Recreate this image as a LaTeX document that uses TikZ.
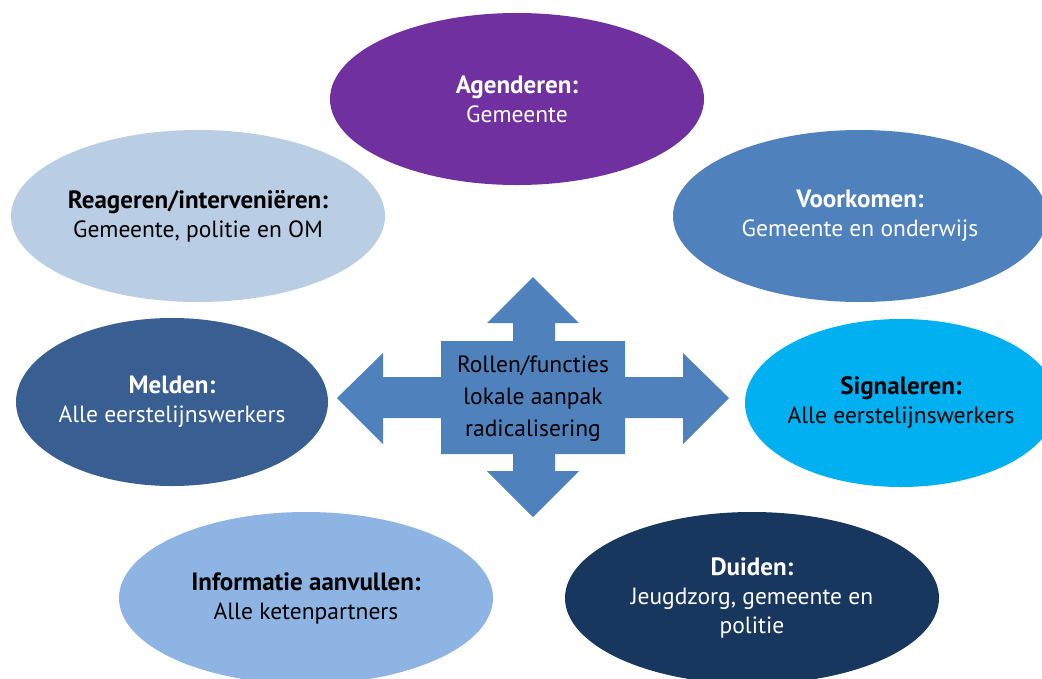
\documentclass[tikz,border=0pt]{standalone}
\usepackage{fontspec}
\setmainfont{PT Sans}
\usetikzlibrary{shapes.geometric}
\definecolor{cPurple}{HTML}{7030A0}
\definecolor{cPale}{HTML}{B9CDE5}
\definecolor{cMid}{HTML}{4F81BD}
\definecolor{cSteel}{HTML}{385E92}
\definecolor{cCyan}{HTML}{00B0F0}
\definecolor{cLight}{HTML}{8EB4E3}
\definecolor{cNavy}{HTML}{17375E}
\newcommand{\hd}[1]{{\fontsize{25}{29}\selectfont\bfseries #1}}
\tikzset{
  blob/.style={ellipse, inner sep=-25pt, align=center, font=\fontsize{23.5}{29}\selectfont},
  big/.style={minimum width=374pt, minimum height=172pt},
  small/.style={minimum width=312pt, minimum height=168pt},
  crossarrow/.style={fill=cMid, draw=none},
  centretext/.style={align=center, font=\fontsize{23.5}{32}\selectfont, text=black}
}
\begin{document}
\begin{tikzpicture}[x=1pt,y=-1pt]
\useasboundingbox (0,0) rectangle (1042,678);
\clip (0,0) rectangle (1042,678);
\fill[white] (0,0) rectangle (1042,678);

\node[blob, big, fill=cPurple, text=white] (agenderen) at (517,99) {\hd{Agenderen:}\\Gemeente};
\node[blob, big, fill=cPale, text=black] (reageren) at (198,216) {\hd{Reageren/interveniëren:}\\Gemeente, politie en OM};
\node[blob, big, fill=cMid, text=white] (voorkomen) at (860,216) {\hd{Voorkomen:}\\Gemeente en onderwijs};
\node[blob, small, fill=cSteel, text=white] (melden) at (172,402) {\hd{Melden:}\\Alle eerstelijnswerkers};
\node[blob, small, fill=cCyan, text=black] (signaleren) at (901,403) {\hd{Signaleren:}\\Alle eerstelijnswerkers};
\node[blob, big, fill=cLight, text=black] (informatie) at (306,598) {\hd{Informatie aanvullen:}\\Alle ketenpartners};
\node[blob, big, fill=cNavy, text=white] (duiden) at (752,598) {\hd{Duiden:}\\Jeugdzorg, gemeente en\\politie};

\fill[crossarrow] (533,277) -- (579,323) -- (555,323) -- (555,341) -- (625,341) -- (625,377)
  -- (683,377) -- (683,353) -- (729,398) -- (683,444) -- (683,418) -- (625,418)
  -- (625,454) -- (555,454) -- (555,471) -- (579,471) -- (533,517) -- (487,471)
  -- (513,471) -- (513,454) -- (441,454) -- (441,418) -- (383,418) -- (383,444)
  -- (337,398) -- (383,353) -- (383,377) -- (441,377) -- (441,341) -- (513,341)
  -- (513,323) -- (487,323) -- cycle;
\node[centretext] (centre) at (533,399) {Rollen/functies\\lokale aanpak\\radicalisering};
\end{tikzpicture}
\end{document}
